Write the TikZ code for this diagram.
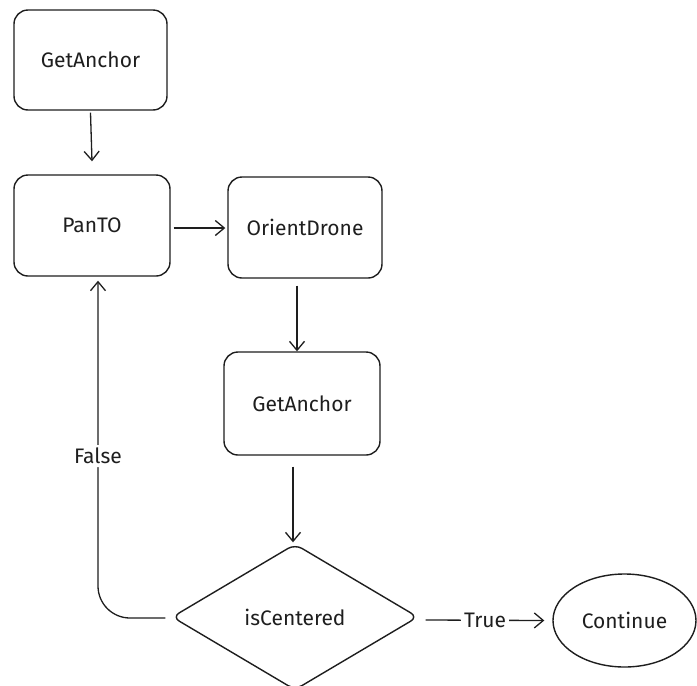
\documentclass[tikz,border=0pt]{standalone}
\usepackage{fontspec}
\setmainfont{Fira Sans}
\usetikzlibrary{shapes.geometric,arrows.meta}
\definecolor{ink}{HTML}{1E1E1E}
\begin{document}
\begin{tikzpicture}[x=1pt,y=1pt,
  every node/.style={font=\fontsize{21}{24}\selectfont, text=ink},
  box/.style={draw=ink, line width=1.4pt, rounded corners=14pt, inner sep=0pt},
  decision/.style={diamond, draw=ink, line width=1.4pt, inner sep=0pt, rounded corners=8pt},
  endstate/.style={ellipse, draw=ink, line width=1.4pt, inner sep=0pt},
  arr/.style={draw=ink, line width=1.3pt, -{Straight Barb[length=9pt,width=15pt,line width=1.3pt]}},
  lbl/.style={fill=white, inner sep=3pt}
]
\useasboundingbox (0,0) rectangle (697,-686);
\fill[white] (0,0) rectangle (697,-686);

% process steps
\node[box, minimum width=153pt, minimum height=100pt] (ga1) at (90.5,-60) {GetAnchor};
\node[box, minimum width=156pt, minimum height=101pt] (pan) at (92,-225.5) {PanTO};
\node[box, minimum width=154pt, minimum height=101pt] (orient) at (305,-227.5) {OrientDrone};
\node[box, minimum width=156pt, minimum height=103pt] (ga2) at (302,-403.5) {GetAnchor};

% decision and final state
\node[decision, minimum width=246pt, minimum height=146pt] (dec) at (295,-617) {isCentered};
\node[endstate, minimum width=143pt, minimum height=93pt] (cont) at (624.5,-620.5) {Continue};

% connectors
\draw[arr] ([yshift=-2pt]ga1.south) -- ([yshift=13pt]pan.north);
\draw[arr] ([xshift=3pt,yshift=-2.5pt]pan.east) -- ([xshift=-2pt,yshift=-0.5pt]orient.west);
\draw[arr] ([xshift=-8pt,yshift=-7pt]orient.south) -- ([xshift=-5pt]ga2.north);
\draw[arr] ([xshift=-9pt,yshift=-11pt]ga2.south) -- ([xshift=-2pt,yshift=1pt]dec.north);
\draw[arr, rounded corners=32pt] ([xshift=-6pt,yshift=-1pt]dec.west)
  -| node[lbl, pos=0.74] {False} ([xshift=6pt,yshift=-4pt]pan.south);
\draw[arr] ([xshift=7pt,yshift=-3pt]dec.east)
  -- node[lbl] {True} ([xshift=-8pt]cont.west);
\end{tikzpicture}
\end{document}
